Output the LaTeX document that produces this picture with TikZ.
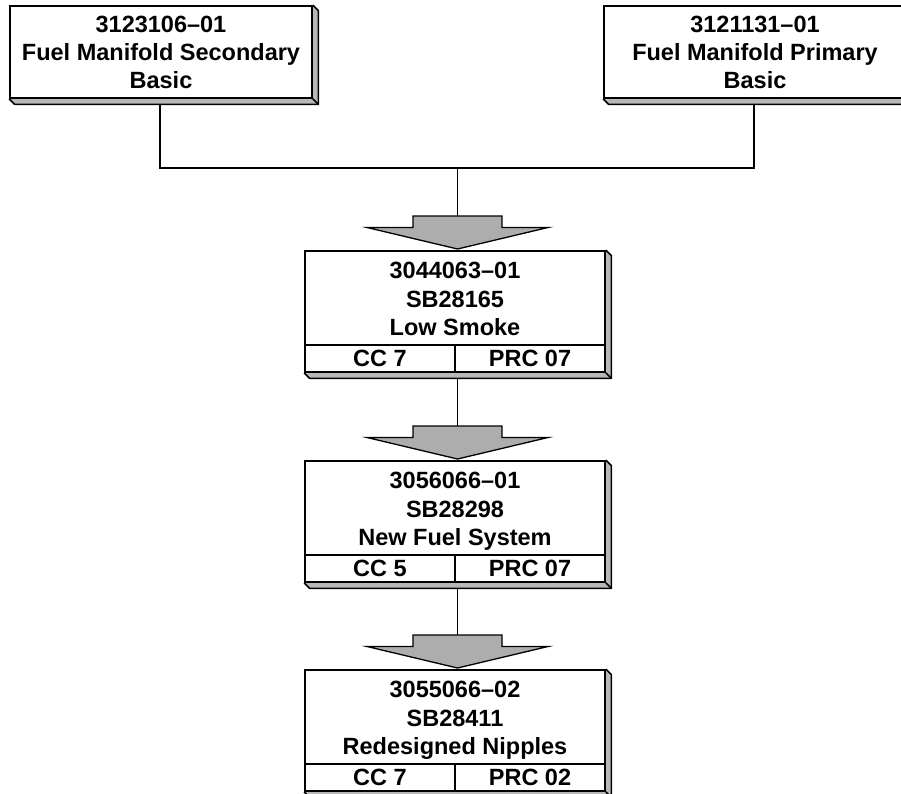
\documentclass[tikz,border=0pt]{standalone}
\usepackage{fontspec}
\setmainfont{Liberation Sans}
\usetikzlibrary{calc}
\tikzset{
  x=1pt, y=-1pt,
  pbox/.style={draw, line width=1.7pt, fill=white, inner sep=0pt, minimum width=300pt, minimum height=121pt},
  topbox/.style={pbox, minimum width=302pt, minimum height=92pt},
  lbl/.style={font=\bfseries\fontsize{23.5}{28}\selectfont, inner sep=0pt, anchor=base},
  conn/.style={line width=1.7pt},
  arrowfill/.style={fill=black!32, draw, line width=1.3pt, line join=miter},
  rimfill/.style={fill=black!28},
  rimline/.style={line width=1.6pt, line join=round},
}
\newcommand\rimdraw[1]{%
  \fill[rimfill] (#1.south west) -- ++(5.5,5.5) -| ($(#1.north east)+(5.5,5.5)$) -- (#1.north east) -- (#1.south east) -- cycle;
  \draw[rimline] (#1.south west) -- ++(5.5,5.5) -| ($(#1.north east)+(5.5,5.5)$) -- (#1.north east);
  \draw[rimline] (#1.south east) -- ++(5.5,5.5);
}
\newcommand\bigarrow[1]{%
  \draw[arrowfill] ($(#1)+(-44.5,0)$) -- ++(89,0) -- ++(0,11.5) -- ++(46,0)
    -- ($(#1)+(0,33)$) -- ($(#1)+(-90.5,11.5)$) -- ++(46,0) -- cycle;
}
\begin{document}
\begin{tikzpicture}
\useasboundingbox (0,0) rectangle (901,793);
\clip (0,0) rectangle (901,793);

% coordinates
\coordinate (j) at (457.5,168);
\coordinate (a1) at (457.5,216);
\coordinate (a2) at (457.5,426);
\coordinate (a3) at (457.5,635);

% top boxes
\node[topbox] (tl) at (161,52) {};
\node[topbox] (tr) at (755,52) {};
\rimdraw{tl}
\rimdraw{tr}
\node[topbox] at (tl) {};
\node[topbox] at (tr) {};
\node[lbl] (tl1) at (161,32.4) {3123106–01};
\node[lbl] (tl2) at (161,60.4) {Fuel Manifold Secondary};
\node[lbl] (tl3) at (161,88.4) {Basic};
\node[lbl] (tr1) at (755,32.4) {3121131–01};
\node[lbl] (tr2) at (755,60.4) {Fuel Manifold Primary};
\node[lbl] (tr3) at (755,88.4) {Basic};

% connectors from top
\draw[conn] ($(tl.south)+(-1,5.5)$) |- (j) -| ($(tr.south)+(-1,5.5)$);
\draw[conn] (j) -- (a1);
\bigarrow{a1}

% box 2
\node[pbox] (b2) at (455,311.5) {};
\rimdraw{b2}
\node[pbox] at (b2) {};
\draw[conn] ($(b2.south west)+(0,-28)$) -- ($(b2.south east)+(0,-28)$);
\draw[conn] ($(b2.south)+(0,-28)$) -- (b2.south);
\node[lbl] (b21) at (455,278.9) {3044063–01};
\node[lbl] (b22) at (455,307.4) {SB28165};
\node[lbl] (b23) at (455,335.9) {Low Smoke};
\node[lbl] (b2l) at (380,366.4) {CC 7};
\node[lbl] (b2r) at (530,366.4) {PRC 07};
\draw[conn] ($(b2.south -| a2)+(0,5.5)$) -- (a2);
\bigarrow{a2}

% box 3
\node[pbox] (b3) at (455,521.5) {};
\rimdraw{b3}
\node[pbox] at (b3) {};
\draw[conn] ($(b3.south west)+(0,-28)$) -- ($(b3.south east)+(0,-28)$);
\draw[conn] ($(b3.south)+(0,-28)$) -- (b3.south);
\node[lbl] (b31) at (455,488.4) {3056066–01};
\node[lbl] (b32) at (455,517.4) {SB28298};
\node[lbl] (b33) at (455,545.4) {New Fuel System};
\node[lbl] (b3l) at (380,576.4) {CC 5};
\node[lbl] (b3r) at (530,576.4) {PRC 07};
\draw[conn] ($(b3.south -| a3)+(0,5.5)$) -- (a3);
\bigarrow{a3}

% box 4
\node[pbox] (b4) at (455,730.5) {};
\rimdraw{b4}
\node[pbox] at (b4) {};
\draw[conn] ($(b4.south west)+(0,-28)$) -- ($(b4.south east)+(0,-28)$);
\draw[conn] ($(b4.south)+(0,-28)$) -- (b4.south);
\node[lbl] (b41) at (455,697.4) {3055066–02};
\node[lbl] (b42) at (455,726.4) {SB28411};
\node[lbl] (b43) at (455,754.4) {Redesigned Nipples};
\node[lbl] (b4l) at (380,785.4) {CC 7};
\node[lbl] (b4r) at (530,785.4) {PRC 02};
\end{tikzpicture}
\end{document}
